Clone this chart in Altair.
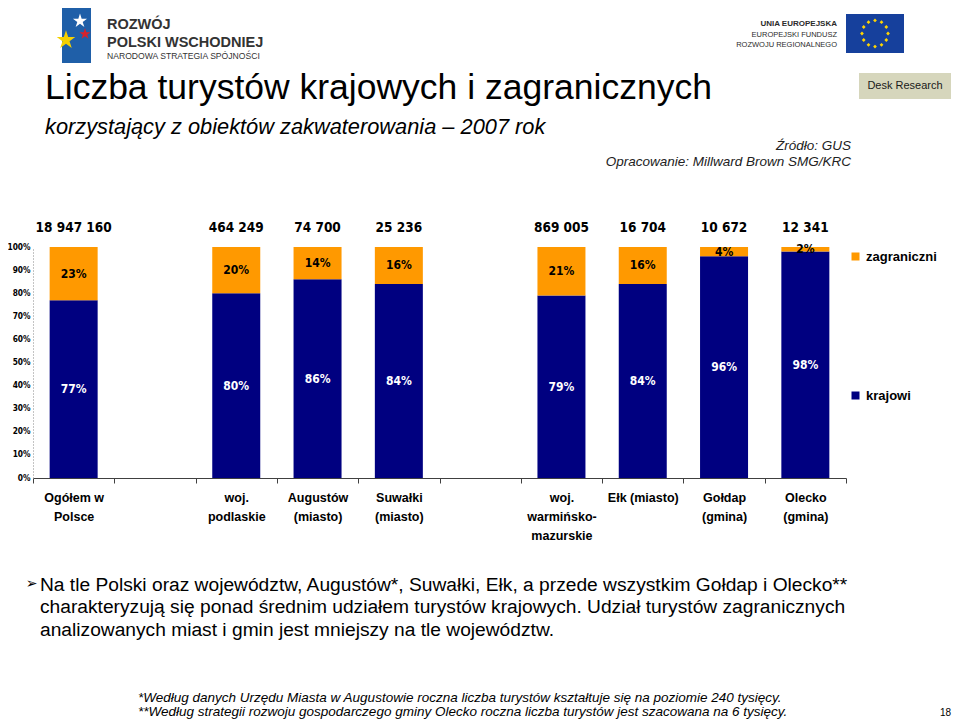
import math
import altair as alt
import pandas as pd

# ---------------- data ----------------
slots = ["Ogółem w|Polsce", "_gap1", "woj.|podlaskie", "Augustów|(miasto)", "Suwałki|(miasto)",
         "_gap2", "woj.|warmińsko-|mazurskie", "Ełk (miasto)", "Gołdap|(gmina)", "Olecko|(gmina)"]
categories = ["Ogółem w|Polsce", "woj.|podlaskie", "Augustów|(miasto)", "Suwałki|(miasto)",
              "woj.|warmińsko-|mazurskie", "Ełk (miasto)", "Gołdap|(gmina)", "Olecko|(gmina)"]
krajowi = [77, 80, 86, 84, 79, 84, 96, 98]
zagraniczni = [23, 20, 14, 16, 21, 16, 4, 2]
totals = ["18 947 160", "464 249", "74 700", "25 236", "869 005", "16 704", "10 672", "12 341"]
y_ticks = [0, 0.1, 0.2, 0.3, 0.4, 0.5, 0.6, 0.7, 0.8, 0.9, 1.0]

rows = []
for c, k, z, t in zip(categories, krajowi, zagraniczni, totals):
    rows.append({"cat": c, "series": "krajowi", "lo": 0, "hi": k / 100, "mid": k / 200,
                 "label": f"{k}%", "total": t})
    rows.append({"cat": c, "series": "zagraniczni", "lo": k / 100, "hi": (k + z) / 100,
                 "mid": (k + z / 2) / 100, "label": f"{z}%", "total": t})
df = pd.DataFrame(rows)
df_k = df[df.series == "krajowi"]
df_z = df[df.series == "zagraniczni"]

NUM_FONT = "DejaVu Sans Condensed, DejaVu Sans"
ARIAL = "Liberation Sans, Arial"

x_enc = alt.X("cat:N",
              scale=alt.Scale(domain=slots, paddingInner=0, paddingOuter=0),
              axis=alt.Axis(title=None, labelAngle=0, tickBand="extent", tickSize=5,
                            labelExpr="isString(datum.value) && indexof(datum.value,'_gap') != 0 ? split(datum.value,'|') : ''",
                            domainColor="#404040", tickColor="#404040",
                            labelFont=ARIAL, labelFontSize=12.5, labelFontWeight="bold",
                            labelColor="#000", labelBaseline="top", labelPadding=8,
                            labelLineHeight=19))
y_scale = alt.Scale(domain=[0, 1])
y_axis = alt.Axis(title=None, format=".0%", values=y_ticks, ticks=False, grid=False,
                  labelFont=NUM_FONT, labelFontSize=8.3, labelFontWeight="bold",
                  labelColor="#000", labelPadding=3, domainDash=[1, 2], domainColor="#888")


def legend(y):
    return alt.Legend(title=None, orient="none", legendX=816, legendY=y, symbolType="square",
                      symbolSize=64, symbolStrokeWidth=0, labelFont=ARIAL, labelFontSize=13,
                      labelFontWeight="bold", labelColor="#000", labelOffset=4)


bars_k = alt.Chart(df_k).mark_bar(size=48).encode(
    x=x_enc, y=alt.Y("lo:Q", scale=y_scale, axis=y_axis), y2="hi:Q",
    color=alt.Color("series:N", scale=alt.Scale(domain=["krajowi"], range=["#000080"]),
                    legend=legend(142)))
bars_z = alt.Chart(df_z).mark_bar(size=48).encode(
    x=x_enc, y=alt.Y("lo:Q", scale=y_scale, axis=y_axis), y2="hi:Q",
    color=alt.Color("series:N", scale=alt.Scale(domain=["zagraniczni"], range=["#FF9900"]),
                    legend=legend(3)))

lab_k = alt.Chart(df_k).mark_text(font=NUM_FONT, fontSize=12, fontWeight="bold", color="#fff").encode(
    x=x_enc, y=alt.Y("mid:Q", scale=y_scale, axis=y_axis), text="label:N")
lab_z = alt.Chart(df_z).mark_text(font=NUM_FONT, fontSize=12, fontWeight="bold", color="#000").encode(
    x=x_enc, y=alt.Y("mid:Q", scale=y_scale, axis=y_axis), text="label:N")
tot = alt.Chart(df_z).mark_text(font=NUM_FONT, fontSize=13.5, fontWeight="bold", color="#000").encode(
    x=x_enc, y=alt.value(-19), text="total:N")

# ---------------- slide decorations (pixel positions relative to plot origin) ----------------
one = pd.DataFrame({"d": [0]})


def txt(s, x, y, **kw):
    return alt.Chart(one).mark_text(text=s, **kw).encode(x=alt.value(x), y=alt.value(y))


def box(x1, x2, y1, y2, color):
    return alt.Chart(one).mark_rect(color=color).encode(
        x=alt.value(x1), x2=alt.value(x2), y=alt.value(y1), y2=alt.value(y2))


STAR = "M0,-1L0.2245,-0.309L0.951,-0.309L0.363,0.118L0.588,0.809L0,0.382L-0.588,0.809L-0.363,0.118L-0.951,-0.309L-0.2245,-0.309Z"


def star(x, y, size, color):
    return alt.Chart(one).mark_point(shape=STAR, filled=True, size=size, color=color, opacity=1).encode(
        x=alt.value(x), y=alt.value(y))


ring = ""
for i in range(12):
    a = i * math.pi / 6
    cx, cy = 0.62 * math.cos(a), 0.62 * math.sin(a)
    r = 0.09
    ring += f"M{cx:.3f},{cy - r:.3f}L{cx + r:.3f},{cy:.3f}L{cx:.3f},{cy + r:.3f}L{cx - r:.3f},{cy:.3f}Z"

deco = [
    box(29, 58, -239, -184, "#1f5fa8"),
    star(47, -226, 220, "#ffffff"),
    star(52, -213, 140, "#d7222b"),
    star(33, -207, 380, "#f5d000"),
    txt("ROZWÓJ", 74, -222, font=ARIAL, fontSize=14.5, fontWeight="bold", align="left", baseline="middle", color="#333"),
    txt("POLSKI WSCHODNIEJ", 74, -204, font=ARIAL, fontSize=14.5, fontWeight="bold", align="left", baseline="middle", color="#333"),
    txt("NARODOWA STRATEGIA SPÓJNOŚCI", 74, -191, font=ARIAL, fontSize=8.6, align="left", baseline="middle", color="#333"),
    txt("UNIA EUROPEJSKA", 804, -223, font=ARIAL, fontSize=8, fontWeight="bold", align="right", baseline="middle", color="#2b2b2b"),
    txt("EUROPEJSKI FUNDUSZ", 804, -212, font=ARIAL, fontSize=7.5, align="right", baseline="middle", color="#2b2b2b"),
    txt("ROZWOJU REGIONALNEGO", 804, -202, font=ARIAL, fontSize=7.5, align="right", baseline="middle", color="#2b2b2b"),
    box(813, 871, -233, -194, "#16409c"),
    alt.Chart(one).mark_point(shape=ring, filled=True, size=1764, color="#ffd500", opacity=1).encode(
        x=alt.value(842), y=alt.value(-213.5)),
    txt("Liczba turystów krajowych i zagranicznych", 12, -148, font=ARIAL, fontSize=35.5,
        align="left", baseline="alphabetic", color="#000"),
    txt("korzystający z obiektów zakwaterowania – 2007 rok", 12, -113, font=ARIAL, fontSize=21.8,
        fontStyle="italic", align="left", baseline="alphabetic", color="#000"),
    box(826, 918, -174, -148, "#d6d6bc"),
    txt("Desk Research", 872, -161, font=ARIAL, fontSize=11, align="center", baseline="middle", color="#1a1a1a"),
    txt("Źródło: GUS", 818, -97, font=ARIAL, fontSize=13.5, fontStyle="italic", align="right",
        baseline="alphabetic", color="#222"),
    txt("Opracowanie: Millward Brown SMG/KRC", 818, -81, font=ARIAL, fontSize=13.5, fontStyle="italic",
        align="right", baseline="alphabetic", color="#222"),
    txt("➢", -1.5, 337, font="DejaVu Sans", fontSize=14, align="center", baseline="middle", color="#000"),
    txt(["Na tle Polski oraz województw, Augustów*, Suwałki, Ełk, a przede wszystkim Gołdap i Olecko**",
         "charakteryzują się ponad średnim udziałem turystów krajowych. Udział turystów zagranicznych",
         "analizowanych miast i gmin jest mniejszy na tle województw."],
        7, 343.5, font=ARIAL, fontSize=19.2, lineHeight=22.5, align="left", baseline="alphabetic", color="#000"),
    txt(["*Według danych Urzędu Miasta w Augustowie roczna liczba turystów kształtuje się na poziomie 240 tysięcy.",
         "**Według strategii rozwoju gospodarczego gminy Olecko roczna liczba turystów jest szacowana na 6 tysięcy."],
        105, 455, font=ARIAL, fontSize=13.5, fontStyle="italic", lineHeight=14, align="left",
        baseline="alphabetic", color="#000"),
    txt("18", 918, 471, font=ARIAL, fontSize=10, align="right", baseline="bottom", color="#000"),
]

chart = alt.layer(bars_k, bars_z, lab_k, lab_z, tot, *deco).resolve_scale(
    color="independent"
).properties(
    width=813, height=231,
    padding={"left": 25, "top": 239, "right": 106, "bottom": 241},
    autosize=alt.AutoSizeParams(type="none"),
    background="#ffffff",
).configure_view(stroke=None)

chart.save("out.html", embed_options={"renderer": "svg", "actions": False})
